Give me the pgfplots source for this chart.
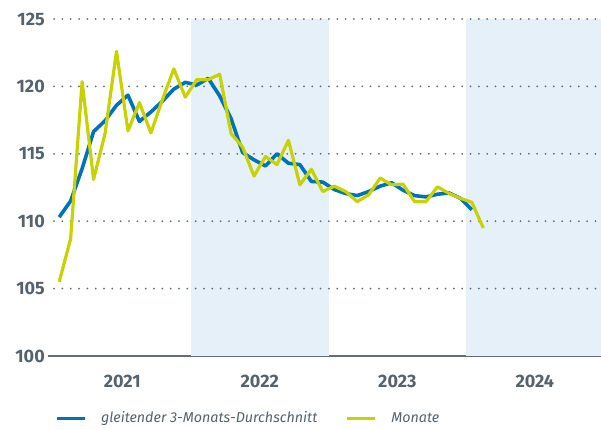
\documentclass[border=0pt]{standalone}
\usepackage{fontspec}
\setmainfont{Fira Sans}
\usepackage{pgfplots}
\usepackage{pgfplotstable}
\pgfplotsset{compat=1.18}
\definecolor{cblue}{RGB}{0,114,186}
\definecolor{cyell}{RGB}{200,210,0}
\definecolor{cband}{RGB}{229,240,248}
\definecolor{ctext}{RGB}{86,98,108}
\definecolor{cgrid}{RGB}{100,110,120}

\pgfplotstableread{
x mon avg
0.5 105.5 110.3
1.5 108.7 111.5
2.5 120.35 113.9
3.5 113.1 116.65
4.5 116.5 117.45
5.5 122.6 118.6
6.5 116.7 119.35
7.5 118.8 117.4
8.5 116.55 118.1
9.5 119.0 118.9
10.5 121.3 119.8
11.5 119.2 120.3
12.5 120.5 120.1
13.5 120.5 120.6
14.5 120.9 119.3
15.5 116.5 117.6
16.5 115.5 115.1
17.5 113.35 114.55
18.5 114.8 114.1
19.5 114.2 115.0
20.5 116.0 114.3
21.5 112.7 114.2
22.5 113.85 112.95
23.5 112.2 112.9
24.5 112.6 112.35
25.5 112.2 112.05
26.5 111.45 111.9
27.5 111.95 112.2
28.5 113.2 112.6
29.5 112.7 112.85
30.5 112.75 112.3
31.5 111.45 111.9
32.5 111.45 111.8
33.5 112.55 112.0
34.5 112.07 112.1
35.5 111.7 111.7
36.5 111.4 110.85
37.5 109.5 nan
}\data

\begin{document}
\begin{tikzpicture}
\useasboundingbox (-47.5pt,-72pt) rectangle (553.5pt,356pt);
\begin{axis}[
  scale only axis, width=553.5pt, height=337pt,
  xmin=-0.52, xmax=47.77, ymin=100, ymax=125,
  axis x line*=bottom, axis y line*=left,
  y axis line style={draw=none},
  x axis line style={draw=cgrid, line width=1.5pt, -},
  major tick length=0pt, tick style={draw=none},
  xtick={6,18,30,42}, xticklabels={2021,2022,2023,2024},
  ytick={100,105,...,125}, yticklabels={100,105,110,115,120,125},
  tick label style={font=\fontsize{18}{18}\selectfont\bfseries, text=ctext},
  yticklabel style={anchor=east, inner sep=0pt, xshift=-2.5pt},
  xticklabel style={anchor=north, inner sep=0pt, yshift=-19pt},
  legend columns=2,
  legend cell align=left,
  legend style={at={(0.0136,-0.184)}, anchor=west, draw=none, fill=none,
    inner sep=0pt, outer sep=0pt,
    font=\fontsize{14.3}{14.3}\selectfont\itshape, text=ctext,
    nodes={inner sep=0pt},
    /tikz/every odd column/.style={column sep=15pt},
    /tikz/every even column/.style={column sep=28pt}},
  legend image code/.code={\draw[#1, line width=3pt, line cap=butt] (0pt,0pt) -- (28pt,0pt);},
]
\fill[cband] (axis cs:12,100) rectangle (axis cs:24,125);
\fill[cband] (axis cs:36,100) rectangle (axis cs:47.77,125);
\pgfplotsinvokeforeach{105,110,115,120,125}{
  \draw[cgrid, line width=2pt, line cap=round, dash pattern=on 0pt off 8.33pt] (axis cs:0.05,#1) -- (axis cs:47.77,#1);
}
\addplot[cblue, line width=3.6pt, line join=round] table[x=x, y=avg] {\data};
\addlegendentry{gleitender 3-Monats-Durchschnitt}
\addplot[cyell, line width=3.2pt, line join=round] table[x=x, y=mon] {\data};
\addlegendentry{Monate}
\end{axis}
\end{tikzpicture}
\end{document}
